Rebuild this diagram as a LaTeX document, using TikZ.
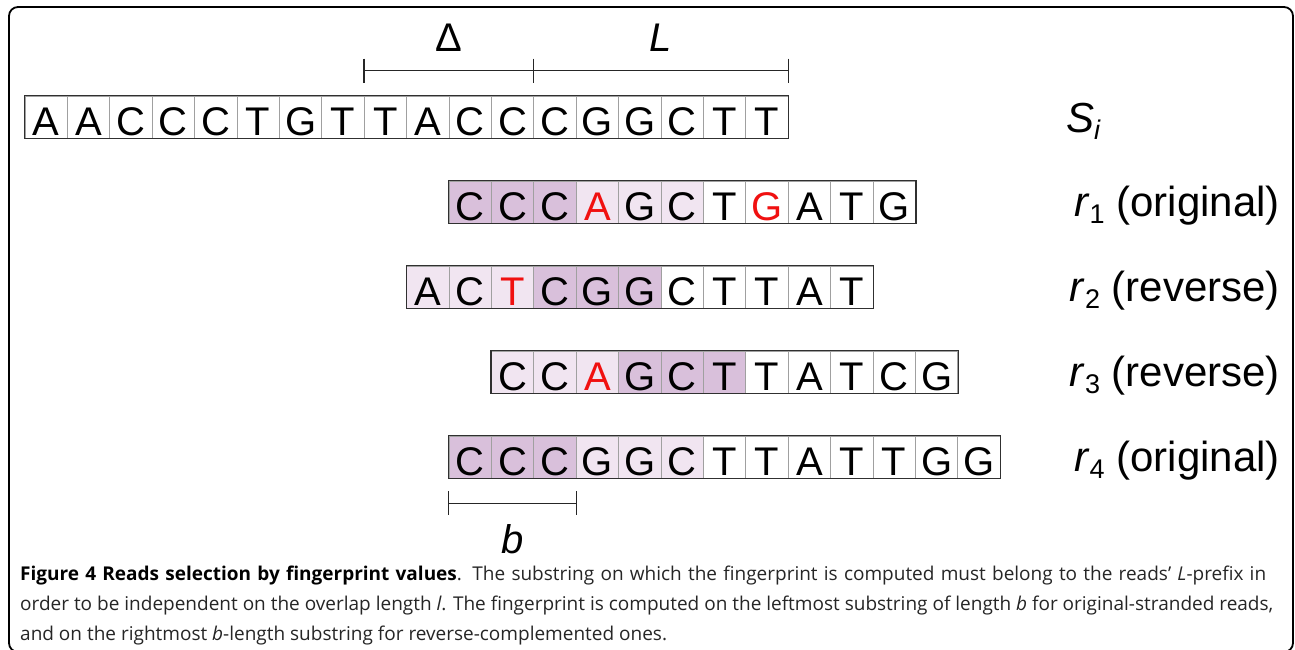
\documentclass[tikz,border=0pt]{standalone}
\usepackage{fontspec}
\setmainfont{Liberation Sans}
\newfontfamily\capfont{Open Sans}
\usetikzlibrary{calc}
\definecolor{dk}{HTML}{D9C0DB}
\definecolor{lt}{HTML}{F1E5F1}
\definecolor{mred}{HTML}{F01010}
\definecolor{cellline}{HTML}{A0A0A0}
\definecolor{rowline}{HTML}{303030}
\tikzset{
  cell/.style={rectangle, draw=cellline, line width=0.8pt, minimum width=42.4pt,
    minimum height=42pt, inner sep=0pt, text height=36pt, text depth=0pt,
    font=\fontsize{40}{40}\selectfont},
  rowbox/.style={draw=rowline, line width=1.4pt},
  bracket/.style={line width=1.4pt, draw=black!85},
  lab/.style={font=\fontsize{40}{40}\selectfont, inner sep=0pt},
  rlab/.style={font=\fontsize{42}{42}\selectfont, inner sep=0pt, anchor=base east},
  captext/.style={font=\capfont\fontsize{19}{19}\selectfont, inner sep=0pt, anchor=base west, text=black!85},
  frame/.style={line width=1.8pt, rounded corners=9pt},
}
\newcommand\drawrow[5]{%
  \foreach \l/\f/\c [count=\i] in {#4} {
    \node[cell, fill=\f, text=\c] (#1-\i) at ({#2+(\i-0.5)*42.4}, #3) {\l};
  }
  \draw[rowbox] (#1-1.north west) rectangle (#1-#5.south east);
}
\newcommand\sub[1]{\raisebox{-0.18em}{\fontsize{27}{27}\selectfont #1}}
\begin{document}
\begin{tikzpicture}[x=1pt,y=-1pt]
\useasboundingbox (0,0) rectangle (1295,649);
\fill[white] (0,0) rectangle (1295,649);
\draw[frame] (9,7) rectangle (1293,652);

% S_i
\drawrow{s}{25}{117}{A/white/black,A/white/black,C/white/black,C/white/black,C/white/black,T/white/black,G/white/black,T/white/black,T/white/black,A/white/black,C/white/black,C/white/black,C/white/black,G/white/black,G/white/black,C/white/black,T/white/black,T/white/black}{18}
% r1
\drawrow{ra}{449}{202}{C/dk/black,C/dk/black,C/dk/black,A/lt/mred,G/lt/black,C/lt/black,T/white/black,G/white/mred,A/white/black,T/white/black,G/white/black}{11}
% r2
\drawrow{rb}{406.6}{287}{A/lt/black,C/lt/black,T/lt/mred,C/dk/black,G/dk/black,G/dk/black,C/white/black,T/white/black,T/white/black,A/white/black,T/white/black}{11}
% r3
\drawrow{rc}{491.4}{372}{C/lt/black,C/lt/black,A/lt/mred,G/dk/black,C/dk/black,T/dk/black,T/white/black,A/white/black,T/white/black,C/white/black,G/white/black}{11}
% r4
\drawrow{rd}{449}{457}{C/dk/black,C/dk/black,C/dk/black,G/lt/black,G/lt/black,C/lt/black,T/white/black,T/white/black,A/white/black,T/white/black,T/white/black,G/white/black,G/white/black}{13}

% Delta / L brackets
\coordinate (d0) at ($(s-9.north west)+(0,-25)$);
\coordinate (d1) at ($(s-13.north west)+(0,-25)$);
\coordinate (d2) at ($(s-18.north east)+(0,-25)$);
\draw[bracket] (d0) -- (d1) -- (d2);
\draw[bracket] ($(d0)+(0,-12)$) -- ($(d0)+(0,12)$);
\draw[bracket] ($(d1)+(0,-12)$) -- ($(d1)+(0,12)$);
\draw[bracket] ($(d2)+(0,-12)$) -- ($(d2)+(0,12)$);
\node[lab, anchor=base] (delta) at ($(d0)!0.5!(d1)+(0,-19)$) {Δ};
\node[lab, anchor=base] (Lab) at ($(d1)!0.5!(d2)+(0,-19)$) {\textit{L}};

% b bracket
\coordinate (b0) at ($(rd-1.south west)+(0,25)$);
\coordinate (b1) at ($(rd-3.south east)+(0,25)$);
\draw[bracket] (b0) -- (b1);
\draw[bracket] ($(b0)+(0,-12)$) -- ($(b0)+(0,12)$);
\draw[bracket] ($(b1)+(0,-12)$) -- ($(b1)+(0,12)$);
\node[lab, anchor=base] (blab) at ($(b0)!0.5!(b1)+(0,50)$) {\textit{b}};

% right labels
\node[rlab, anchor=base west] (si) at (1066,132) {\textit{S}\sub{\textit{i}}};
\node[rlab] (l1) at (1280,216) {\textit{r}\sub{1} (original)};
\node[rlab] (l2) at (1280,301) {\textit{r}\sub{2} (reverse)};
\node[rlab] (l3) at (1280,386) {\textit{r}\sub{3} (reverse)};
\node[rlab] (l4) at (1280,471) {\textit{r}\sub{4} (original)};

% caption
\node[captext] (c1) at (20,580) {\makebox[1246pt][s]{{\color{black}\textbf{Figure 4 Reads selection by fingerprint values}}. The substring on which the fingerprint is computed must belong to the reads’ \textit{L}-prefix in}};
\node[captext] (c2) at (20,610) {order to be independent on the overlap length \textit{l}. The fingerprint is computed on the leftmost substring of length \textit{b} for original-stranded reads,};
\node[captext] (c3) at (20,640) {and on the rightmost \textit{b}-length substring for reverse-complemented ones.};
\end{tikzpicture}
\end{document}
